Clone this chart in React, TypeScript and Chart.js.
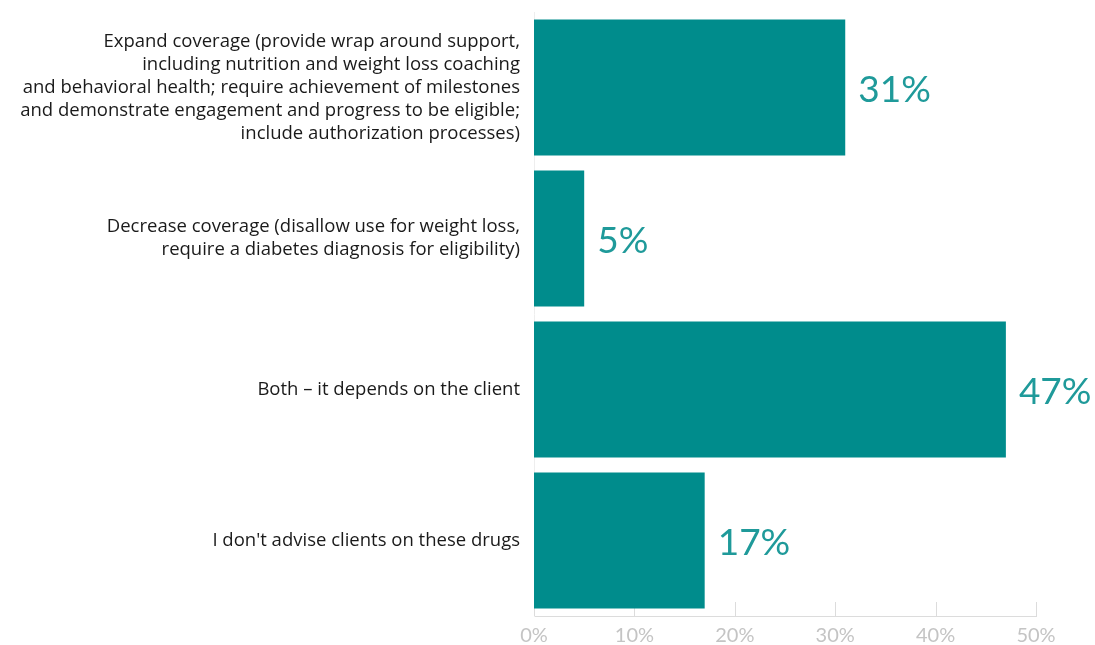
import React, { useEffect, useRef } from "react";
import { Chart, registerables } from "chart.js";

Chart.register(...registerables);

const categories: string[][] = [
  [
    "Expand coverage (provide wrap around support,",
    "including nutrition and weight loss coaching",
    "and behavioral health; require achievement of milestones",
    "and demonstrate engagement and progress to be eligible;",
    "include authorization processes)",
  ],
  [
    "Decrease coverage (disallow use for weight loss,",
    "require a diabetes diagnosis for eligibility)",
  ],
  ["Both \u2013 it depends on the client"],
  ["I don't advise clients on these drugs"],
];
const values: number[] = [31, 5, 47, 17];
const xTicks: number[] = [0, 10, 20, 30, 40, 50];

const BAR_COLOR = "#008c8c";
const LABEL_COLOR = "#1f9a9a";
const LABEL_FONT = "Lato, 'Noto Sans', sans-serif";
const TEXT_FONT = "'Open Sans', 'Noto Sans', sans-serif";

const valueLabelPlugin = {
  id: "valueLabels",
  afterDatasetsDraw(chart: any) {
    const ctx = chart.ctx;
    const meta = chart.getDatasetMeta(0);
    ctx.save();
    ctx.fillStyle = LABEL_COLOR;
    ctx.font = `37px ${LABEL_FONT}`;
    ctx.textAlign = "left";
    ctx.textBaseline = "middle";
    meta.data.forEach((bar: any, i: number) => {
      ctx.fillText(values[i] + "%", bar.x + 13, bar.y + 3);
    });
    ctx.restore();
  },
};

const upTicksPlugin = {
  id: "upTicks",
  beforeDatasetsDraw(chart: any) {
    const ctx = chart.ctx;
    const xs = chart.scales.x;
    const y = chart.chartArea.bottom;
    ctx.save();
    ctx.strokeStyle = "#dcdcdc";
    ctx.lineWidth = 1;
    xTicks.forEach((t) => {
      const px = Math.round(xs.getPixelForValue(t)) + 0.5;
      ctx.beginPath();
      ctx.moveTo(px, y);
      ctx.lineTo(px, y - 14);
      ctx.stroke();
    });
    ctx.restore();
  },
};

export default function App() {
  const ref = useRef<HTMLCanvasElement | null>(null);
  useEffect(() => {
    document.body.style.margin = "0";
    const chart = new Chart(ref.current!, {
      type: "bar",
      data: {
        labels: categories,
        datasets: [
          {
            data: values,
            backgroundColor: BAR_COLOR,
            barPercentage: 0.9,
            categoryPercentage: 1,
            borderWidth: 0,
          },
        ],
      },
      options: {
        indexAxis: "y",
        animation: false,
        responsive: false,
        maintainAspectRatio: false,
        layout: { padding: { top: 12, right: 59, bottom: 0, left: 0 } },
        plugins: { legend: { display: false }, tooltip: { enabled: false } },
        scales: {
          x: {
            min: 0,
            max: 50,
            afterFit: (s: any) => {
              s.height = 29;
              s.paddingLeft = 0;
              s.paddingRight = 0;
            },
            afterBuildTicks: (s: any) => {
              s.ticks = xTicks.map((v) => ({ value: v }));
            },
            grid: { display: false, drawTicks: false },
            border: { display: true, color: "#dcdcdc" },
            ticks: {
              padding: 8,
              color: "#c4c4c4",
              font: { family: LABEL_FONT, size: 20 },
              callback: (v: any) => v + "%",
            },
          },
          y: {
            afterFit: (s: any) => {
              s.width = 534;
              s.paddingTop = 0;
              s.paddingBottom = 0;
            },
            grid: { display: false, drawTicks: false },
            border: { display: true, color: "#eeeeee" },
            ticks: {
              padding: 14,
              color: "#1a1a1a",
              font: { family: TEXT_FONT, size: 18.5, lineHeight: 1.243 },
            },
          },
        },
      },
      plugins: [valueLabelPlugin, upTicksPlugin],
    });
    return () => chart.destroy();
  }, []);
  return (
    <div style={{ position: "fixed", left: 0, top: 0, width: 1095, height: 645 }}>
      <canvas ref={ref} width={1095} height={645} />
    </div>
  );
}
